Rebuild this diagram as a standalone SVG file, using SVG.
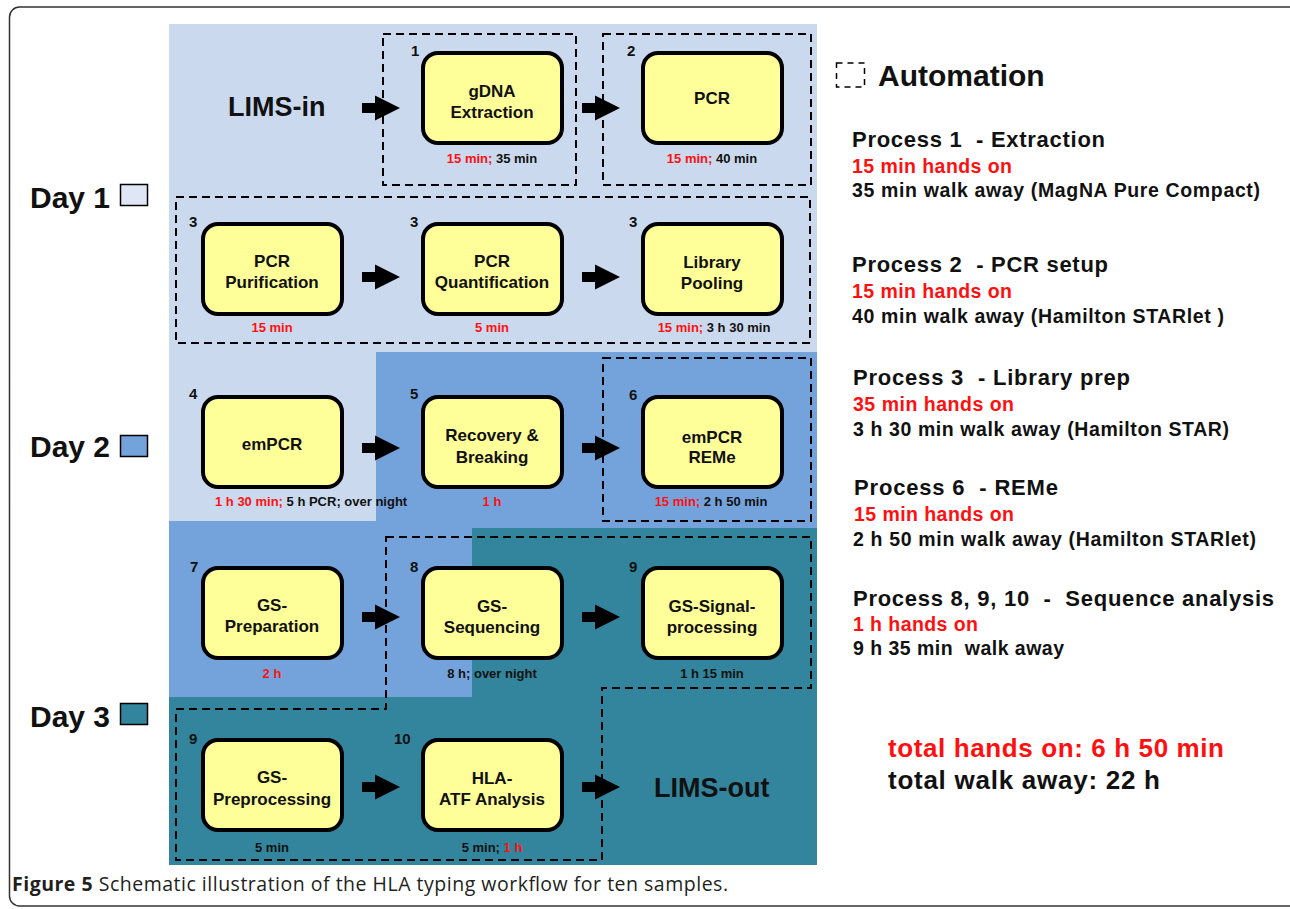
<svg xmlns="http://www.w3.org/2000/svg" xmlns:xlink="http://www.w3.org/1999/xlink" width="1290" height="909" viewBox="0 0 1290 909">
<style>
text{font-family:"Liberation Sans",Arial,Helvetica,sans-serif;font-weight:bold;fill:#111}
.nbox{fill:#ffff99;stroke:#000;stroke-width:4}
.nt{font-size:17px;text-anchor:middle}
.num{font-size:15px}
.tm{font-size:13px;text-anchor:middle}
.red{fill:#ff1010}
.auto{fill:none;stroke:#000;stroke-width:2;stroke-dasharray:8 5}
.big{font-size:27px}
.day{font-size:30px}
.ph{font-size:22px;white-space:pre}
.pl{font-size:19.5px;white-space:pre}
.tot{font-size:26px}
.cap{font-family:"Open Sans","Noto Sans",sans-serif;font-size:19.5px;font-weight:normal;fill:#231f20}
</style>
<defs>
<path id="arr" d="M0,-5 H13 V-12.5 L38,0 L13,12.5 V5 H0 Z" fill="#000"/>
</defs>
<rect x="9.5" y="7" width="1290" height="899" rx="10" fill="#fff" stroke="#333" stroke-width="1.5"/>
<g id="backgrounds">
<polygon points="169,24 817,24 817,352 376,352 376,521 169,521" fill="#cad9ed"/>
<polygon points="376,352 817,352 817,528 472,528 472,697 169,697 169,521 376,521" fill="#74a3dc"/>
<polygon points="472,528 817,528 817,865 169,865 169,697 472,697" fill="#32859c"/>
</g>
<g id="days">
<text class="day" x="30" y="208">Day 1</text>
<rect x="120.5" y="184.5" width="27" height="21" fill="#dfe7f4" stroke="#000" stroke-width="1.5"/>
<text class="day" x="30" y="457">Day 2</text>
<rect x="120.5" y="435.5" width="27" height="21" fill="#74a3dc" stroke="#000" stroke-width="1.5"/>
<text class="day" x="30" y="727">Day 3</text>
<rect x="120.5" y="703.5" width="27" height="21" fill="#32859c" stroke="#000" stroke-width="1.5"/>
</g>
<g id="automation-groups">
<rect class="auto" x="383" y="34" width="193" height="151"/>
<rect class="auto" x="603" y="34" width="208" height="151"/>
<rect class="auto" x="176" y="197" width="634" height="146"/>
<rect class="auto" x="603" y="358" width="208" height="163"/>
<polygon class="auto" points="386,537 811,537 811,688 602,688 602,860 176,860 176,709 386,709"/>
</g>
<g id="lims-in"><text class="big" x="228" y="116">LIMS-in</text></g>
<g id="lims-out"><text class="big" x="654" y="797">LIMS-out</text></g>

<g id="n1">
<text class="num" x="411" y="56">1</text>
<rect class="nbox" x="423" y="53" width="139" height="90" rx="15"/>
<text class="nt" x="492" y="97">gDNA</text><text class="nt" x="492" y="118">Extraction</text>
<text class="tm" x="492" y="163"><tspan class="red">15 min;</tspan> 35 min</text>
</g>
<g id="n2">
<text class="num" x="627" y="56">2</text>
<rect class="nbox" x="643" y="53" width="139" height="90" rx="15"/>
<text class="nt" x="712" y="104">PCR</text>
<text class="tm" x="712" y="163"><tspan class="red">15 min;</tspan> 40 min</text>
</g>
<g id="n3a">
<text class="num" x="189" y="227">3</text>
<rect class="nbox" x="203" y="224" width="139" height="90" rx="15"/>
<text class="nt" x="272" y="267">PCR</text><text class="nt" x="272" y="288">Purification</text>
<text class="tm red" x="272" y="332">15 min</text>
</g>
<g id="n3b">
<text class="num" x="410" y="227">3</text>
<rect class="nbox" x="423" y="224" width="139" height="90" rx="15"/>
<text class="nt" x="492" y="267">PCR</text><text class="nt" x="492" y="288">Quantification</text>
<text class="tm red" x="492" y="332">5 min</text>
</g>
<g id="n3c">
<text class="num" x="629" y="227">3</text>
<rect class="nbox" x="643" y="224" width="139" height="90" rx="15"/>
<text class="nt" x="712" y="268">Library</text><text class="nt" x="712" y="289">Pooling</text>
<text class="tm" x="714" y="332"><tspan class="red">15 min;</tspan> 3 h 30 min</text>
</g>
<g id="n4">
<text class="num" x="189" y="399">4</text>
<rect class="nbox" x="203" y="397" width="139" height="90" rx="15"/>
<text class="nt" x="272" y="450">emPCR</text>
<text class="tm" x="215" y="506" style="text-anchor:start"><tspan class="red">1 h 30 min;</tspan> 5 h PCR; over night</text>
</g>
<g id="n5">
<text class="num" x="410" y="399">5</text>
<rect class="nbox" x="423" y="397" width="139" height="90" rx="15"/>
<text class="nt" x="492" y="441">Recovery &amp;</text><text class="nt" x="492" y="463">Breaking</text>
<text class="tm red" x="492" y="506">1 h</text>
</g>
<g id="n6">
<text class="num" x="629" y="400">6</text>
<rect class="nbox" x="643" y="397" width="139" height="90" rx="15"/>
<text class="nt" x="712" y="443">emPCR</text><text class="nt" x="712" y="463">REMe</text>
<text class="tm" x="711" y="506"><tspan class="red">15 min;</tspan> 2 h 50 min</text>
</g>
<g id="n7">
<text class="num" x="190" y="572">7</text>
<rect class="nbox" x="203" y="568" width="139" height="90" rx="15"/>
<text class="nt" x="272" y="611">GS-</text><text class="nt" x="272" y="632">Preparation</text>
<text class="tm red" x="272" y="678">2 h</text>
</g>
<g id="n8">
<text class="num" x="410" y="572">8</text>
<rect class="nbox" x="423" y="568" width="139" height="90" rx="15"/>
<text class="nt" x="492" y="612">GS-</text><text class="nt" x="492" y="633">Sequencing</text>
<text class="tm" x="492" y="678">8 h; over night</text>
</g>
<g id="n9a">
<text class="num" x="629" y="572">9</text>
<rect class="nbox" x="643" y="568" width="139" height="90" rx="15"/>
<text class="nt" x="712" y="612">GS-Signal-</text><text class="nt" x="712" y="633">processing</text>
<text class="tm" x="712" y="678">1 h 15 min</text>
</g>
<g id="n9b">
<text class="num" x="189" y="744">9</text>
<rect class="nbox" x="203" y="740" width="139" height="90" rx="15"/>
<text class="nt" x="272" y="783">GS-</text><text class="nt" x="272" y="805">Preprocessing</text>
<text class="tm" x="272" y="852">5 min</text>
</g>
<g id="n10">
<text class="num" x="394" y="744">10</text>
<rect class="nbox" x="423" y="740" width="139" height="90" rx="15"/>
<text class="nt" x="492" y="784">HLA-</text><text class="nt" x="492" y="805">ATF Analysis</text>
<text class="tm" x="492" y="852">5 min; <tspan class="red">1 h</tspan></text>
</g>

<g id="connectors">
<use href="#arr" x="362" y="108"/>
<use href="#arr" x="582" y="108"/>
<use href="#arr" x="362" y="277"/>
<use href="#arr" x="582" y="277"/>
<use href="#arr" x="362" y="448"/>
<use href="#arr" x="582" y="448"/>
<use href="#arr" x="362" y="617"/>
<use href="#arr" x="582" y="617"/>
<use href="#arr" x="362" y="787"/>
<use href="#arr" x="582" y="787"/>
</g>

<g id="legend">
<rect x="836.5" y="63" width="28" height="24" fill="none" stroke="#000" stroke-width="1.5" stroke-dasharray="6 5"/>
<text x="878" y="86" style="font-size:30px">Automation</text>
</g>
<g id="process-notes">
<text class="ph" x="852" y="147" textLength="253">Process 1  - Extraction</text>
<text class="pl red" x="852" y="173" textLength="160">15 min hands on</text>
<text class="pl" x="852" y="197" textLength="408">35 min walk away (MagNA Pure Compact)</text>
<text class="ph" x="852" y="272" textLength="256">Process 2  - PCR setup</text>
<text class="pl red" x="852" y="298" textLength="160">15 min hands on</text>
<text class="pl" x="852" y="323" textLength="372">40 min walk away (Hamilton STARlet )</text>
<text class="ph" x="853" y="385" textLength="277">Process 3  - Library prep</text>
<text class="pl red" x="853" y="411" textLength="161">35 min hands on</text>
<text class="pl" x="853" y="436" textLength="376">3 h 30 min walk away (Hamilton STAR)</text>
<text class="ph" x="854" y="495" textLength="204">Process 6  - REMe</text>
<text class="pl red" x="854" y="521" textLength="160">15 min hands on</text>
<text class="pl" x="853" y="546" textLength="403">2 h 50 min walk away (Hamilton STARlet)</text>
<text class="ph" x="853" y="606" textLength="421">Process 8, 9, 10  -  Sequence analysis</text>
<text class="pl red" x="853" y="631" textLength="125">1 h hands on</text>
<text class="pl" x="853" y="655" textLength="211">9 h 35 min  walk away</text>
<text class="tot red" x="888" y="757" textLength="336">total hands on: 6 h 50 min</text>
<text class="tot" x="888" y="789" textLength="272">total walk away: 22 h</text>
</g>
<g id="caption">
<text class="cap" x="12" y="891" textLength="716"><tspan style="font-weight:bold">Figure 5</tspan> Schematic illustration of the HLA typing workflow for ten samples.</text>
</g>
</svg>
